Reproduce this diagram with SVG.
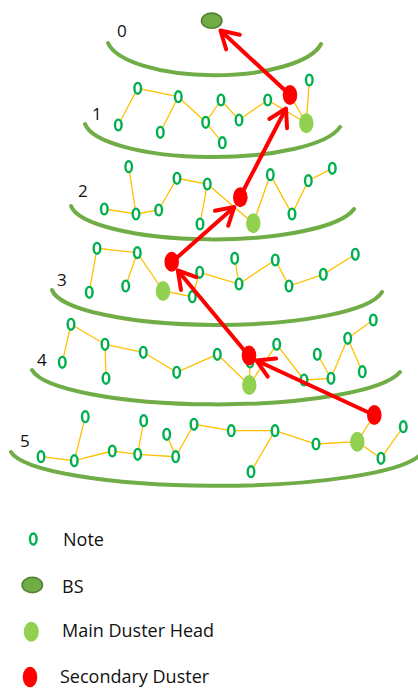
<svg xmlns="http://www.w3.org/2000/svg" width="418" height="688" viewBox="0 0 418 688">
<style>
.arc{fill:none;stroke:#70ad47;stroke-width:4;stroke-linecap:round}
.lnk{stroke:#ffc000;stroke-width:1.3;fill:none}
.nd{fill:#fff;stroke:#00b050;stroke-width:2.4}
.mh{fill:#92d050}
.sd{fill:#ff0000}
.bs{fill:#70ad47;stroke:#548235;stroke-width:1.6}
.rt{stroke:#ff0000;stroke-width:4;fill:none;marker-end:url(#ah)}
.lbl{font-family:"Open Sans","Liberation Sans",sans-serif;font-size:17px;fill:#111}
.leg{font-family:"Open Sans","Liberation Sans",sans-serif;font-size:18px;fill:#111}
</style>
<defs>
<marker id="ah" markerUnits="userSpaceOnUse" orient="auto" markerWidth="30" markerHeight="30" refX="0" refY="0" overflow="visible">
<path d="M-17,-10 L0,0 L-17,10" fill="none" stroke="#ff0000" stroke-width="4" stroke-linejoin="round" stroke-linecap="round"/>
</marker>
</defs>
<rect width="418" height="688" fill="#fff"/>
<g id="levels">
<path class="arc" d="M108,43 A108,38 0 0 0 321,44"/>
<path class="arc" d="M85,124 A129,37 0 0 0 340,127"/>
<path class="arc" d="M71,206 A143,37 0 0 0 354,209"/>
<path class="arc" d="M52,290 A166,38 0 0 0 382,292"/>
<path class="arc" d="M32,370 A186,39 0 0 0 400,372"/>
<path class="arc" d="M11,452 A207,38 0 0 0 421,454"/>
</g>
<g id="level-labels">
<text class="lbl" x="117" y="37">0</text>
<text class="lbl" x="92" y="120">1</text>
<text class="lbl" x="78" y="197">2</text>
<text class="lbl" x="57" y="286">3</text>
<text class="lbl" x="37" y="366">4</text>
<text class="lbl" x="20" y="447">5</text>
</g>
<g id="connectors">
<path class="lnk" d="M118.3,125 L137.7,88.3 L178.3,96.7 L160.3,132.3 M178.3,96.7 L205.7,122.3 L221,100 L239,120 L267.7,100 L306.3,123.3 M205.7,122.3 L222.3,142.7 M290,95 L306.3,123.3 L309.3,80"/>
<path class="lnk" d="M128.7,166.7 L136,214 L104.3,209 M136,214 L158.7,210 L177,178.3 L207.3,184 L200,224 M207.3,184 L253.3,223.3 L270.3,174.7 L292,214 L308.3,180.7 L332.3,168.3"/>
<path class="lnk" d="M89.3,292.3 L97,248.3 L137.3,252.7 L125.7,286 M137.3,252.7 L163,291 L192.3,296.7 L199.7,272.3 L239,284 L234.7,258.3 M239,284 L275.3,260 L289,286 L323.3,274.3 L355.3,254.3"/>
<path class="lnk" d="M62.3,362.3 L71,324.3 L105,344.3 L106,378.3 M105,344.3 L143.3,352.3 L176.7,372.3 L217.3,354.3 L249.3,385 L276.7,344.3 L304,380 L331,378.3 L317.3,354.3 M331,378.3 L347.7,338.3 L362.3,371.7 M347.7,338.3 L373.3,320 M250,362 L249.3,385"/>
<path class="lnk" d="M41,456.7 L74.3,460.7 L85.3,416.7 M74.3,460.7 L112.3,451 L137.7,454.3 L143.7,420.7 M137.7,454.3 L175.7,456.7 L166.7,434.3 M175.7,456.7 L194,424.3 L231.3,430.7 L275,430.7 L251,471.7 M275,430.7 L316,444 L357.3,441.7 L374.3,415 M357.3,441.7 L381,458.3 L403.3,426.7"/>
</g>
<g id="level1-sensors">
<ellipse class="nd" cx="118.3" cy="125" rx="3.3" ry="5.4"/>
<ellipse class="nd" cx="137.7" cy="88.3" rx="3.3" ry="5.4"/>
<ellipse class="nd" cx="178.3" cy="96.7" rx="3.3" ry="5.4"/>
<ellipse class="nd" cx="160.3" cy="132.3" rx="3.3" ry="5.4"/>
<ellipse class="nd" cx="205.7" cy="122.3" rx="3.3" ry="5.4"/>
<ellipse class="nd" cx="221" cy="100" rx="3.3" ry="5.4"/>
<ellipse class="nd" cx="222.3" cy="142.7" rx="3.3" ry="5.4"/>
<ellipse class="nd" cx="239" cy="120" rx="3.3" ry="5.4"/>
<ellipse class="nd" cx="267.7" cy="100" rx="3.3" ry="5.4"/>
<ellipse class="nd" cx="309.3" cy="80" rx="3.3" ry="5.4"/>
</g>
<g id="level2-sensors">
<ellipse class="nd" cx="128.7" cy="166.7" rx="3.3" ry="5.4"/>
<ellipse class="nd" cx="104.3" cy="209" rx="3.3" ry="5.4"/>
<ellipse class="nd" cx="136" cy="214" rx="3.3" ry="5.4"/>
<ellipse class="nd" cx="158.7" cy="210" rx="3.3" ry="5.4"/>
<ellipse class="nd" cx="177" cy="178.3" rx="3.3" ry="5.4"/>
<ellipse class="nd" cx="207.3" cy="184" rx="3.3" ry="5.4"/>
<ellipse class="nd" cx="200" cy="224" rx="3.3" ry="5.4"/>
<ellipse class="nd" cx="270.3" cy="174.7" rx="3.3" ry="5.4"/>
<ellipse class="nd" cx="292" cy="214" rx="3.3" ry="5.4"/>
<ellipse class="nd" cx="308.3" cy="180.7" rx="3.3" ry="5.4"/>
<ellipse class="nd" cx="332.3" cy="168.3" rx="3.3" ry="5.4"/>
</g>
<g id="level3-sensors">
<ellipse class="nd" cx="97" cy="248.3" rx="3.3" ry="5.4"/>
<ellipse class="nd" cx="137.3" cy="252.7" rx="3.3" ry="5.4"/>
<ellipse class="nd" cx="89.3" cy="292.3" rx="3.3" ry="5.4"/>
<ellipse class="nd" cx="125.7" cy="286" rx="3.3" ry="5.4"/>
<ellipse class="nd" cx="199.7" cy="272.3" rx="3.3" ry="5.4"/>
<ellipse class="nd" cx="192.3" cy="296.7" rx="3.3" ry="5.4"/>
<ellipse class="nd" cx="234.7" cy="258.3" rx="3.3" ry="5.4"/>
<ellipse class="nd" cx="239" cy="284" rx="3.3" ry="5.4"/>
<ellipse class="nd" cx="275.3" cy="260" rx="3.3" ry="5.4"/>
<ellipse class="nd" cx="289" cy="286" rx="3.3" ry="5.4"/>
<ellipse class="nd" cx="323.3" cy="274.3" rx="3.3" ry="5.4"/>
<ellipse class="nd" cx="355.3" cy="254.3" rx="3.3" ry="5.4"/>
</g>
<g id="level4-sensors">
<ellipse class="nd" cx="71" cy="324.3" rx="3.3" ry="5.4"/>
<ellipse class="nd" cx="62.3" cy="362.3" rx="3.3" ry="5.4"/>
<ellipse class="nd" cx="105" cy="344.3" rx="3.3" ry="5.4"/>
<ellipse class="nd" cx="106" cy="378.3" rx="3.3" ry="5.4"/>
<ellipse class="nd" cx="143.3" cy="352.3" rx="3.3" ry="5.4"/>
<ellipse class="nd" cx="176.7" cy="372.3" rx="3.3" ry="5.4"/>
<ellipse class="nd" cx="217.3" cy="354.3" rx="3.3" ry="5.4"/>
<ellipse class="nd" cx="250" cy="362" rx="3.3" ry="5.4"/>
<ellipse class="nd" cx="276.7" cy="344.3" rx="3.3" ry="5.4"/>
<ellipse class="nd" cx="304" cy="380" rx="3.3" ry="5.4"/>
<ellipse class="nd" cx="317.3" cy="354.3" rx="3.3" ry="5.4"/>
<ellipse class="nd" cx="331" cy="378.3" rx="3.3" ry="5.4"/>
<ellipse class="nd" cx="347.7" cy="338.3" rx="3.3" ry="5.4"/>
<ellipse class="nd" cx="362.3" cy="371.7" rx="3.3" ry="5.4"/>
<ellipse class="nd" cx="373.3" cy="320" rx="3.3" ry="5.4"/>
</g>
<g id="level5-sensors">
<ellipse class="nd" cx="41" cy="456.7" rx="3.3" ry="5.4"/>
<ellipse class="nd" cx="74.3" cy="460.7" rx="3.3" ry="5.4"/>
<ellipse class="nd" cx="85.3" cy="416.7" rx="3.3" ry="5.4"/>
<ellipse class="nd" cx="112.3" cy="451" rx="3.3" ry="5.4"/>
<ellipse class="nd" cx="137.7" cy="454.3" rx="3.3" ry="5.4"/>
<ellipse class="nd" cx="143.7" cy="420.7" rx="3.3" ry="5.4"/>
<ellipse class="nd" cx="166.7" cy="434.3" rx="3.3" ry="5.4"/>
<ellipse class="nd" cx="175.7" cy="456.7" rx="3.3" ry="5.4"/>
<ellipse class="nd" cx="194" cy="424.3" rx="3.3" ry="5.4"/>
<ellipse class="nd" cx="231.3" cy="430.7" rx="3.3" ry="5.4"/>
<ellipse class="nd" cx="275" cy="430.7" rx="3.3" ry="5.4"/>
<ellipse class="nd" cx="251" cy="471.7" rx="3.3" ry="5.4"/>
<ellipse class="nd" cx="316" cy="444" rx="3.3" ry="5.4"/>
<ellipse class="nd" cx="381" cy="458.3" rx="3.3" ry="5.4"/>
<ellipse class="nd" cx="403.3" cy="426.7" rx="3.3" ry="5.4"/>
</g>
<g id="main-heads">
<ellipse class="mh" cx="306.3" cy="123.3" rx="7.2" ry="10"/>
<ellipse class="mh" cx="253.3" cy="223.3" rx="7.2" ry="10"/>
<ellipse class="mh" cx="163" cy="291" rx="7.2" ry="10"/>
<ellipse class="mh" cx="249.3" cy="385" rx="7.2" ry="10"/>
<ellipse class="mh" cx="357.3" cy="441.7" rx="7.2" ry="10"/>
</g>
<g id="bs">
<ellipse class="bs" cx="211.7" cy="20.7" rx="10.2" ry="7.6"/>
</g>
<g id="route">
<path class="rt" d="M290,95 L220.5,30.5"/>
<path class="rt" d="M240,197 L286,108.5"/>
<path class="rt" d="M172,262 L234.3,207"/>
<path class="rt" d="M249,356 L177.8,270.5"/>
<path class="rt" d="M374,415 L256.5,360.5"/>
</g>
<g id="secondary-heads">
<ellipse class="sd" cx="290" cy="95" rx="7.3" ry="10"/>
<ellipse class="sd" cx="240.3" cy="197.3" rx="7.3" ry="10"/>
<ellipse class="sd" cx="171.7" cy="261.7" rx="7.3" ry="10"/>
<ellipse class="sd" cx="249" cy="355.5" rx="7.3" ry="10"/>
<ellipse class="sd" cx="374.3" cy="415" rx="7.3" ry="10"/>
</g>
<g id="legend">
<g id="legend-note"><ellipse class="nd" cx="33.3" cy="539" rx="3.3" ry="5.5"/><text class="leg" x="63" y="546">Note</text></g>
<g id="legend-bs"><ellipse class="bs" cx="32.3" cy="585" rx="10.2" ry="7.6"/><text class="leg" x="62" y="592.5">BS</text></g>
<g id="legend-mh"><ellipse class="mh" cx="31.3" cy="631.7" rx="7.5" ry="10"/><text class="leg" x="62" y="637">Main Duster Head</text></g>
<g id="legend-sd"><ellipse class="sd" cx="30" cy="677" rx="7.3" ry="10.3"/><text class="leg" x="60" y="683">Secondary Duster</text></g>
</g>
</svg>
